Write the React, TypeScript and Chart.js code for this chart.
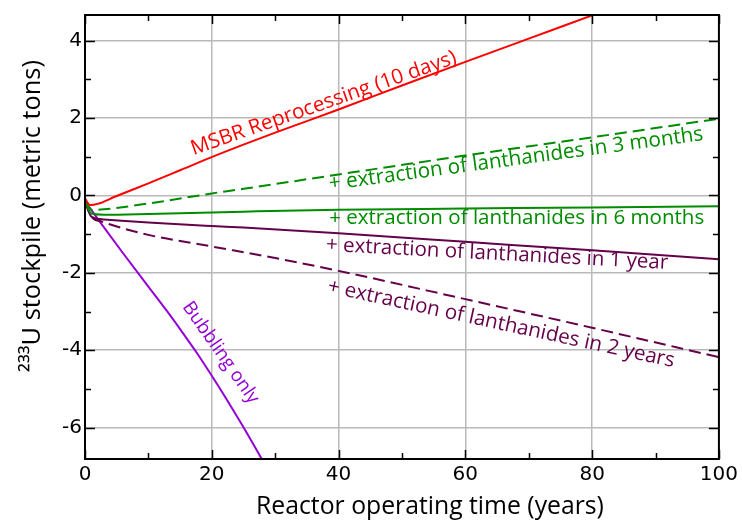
import React, { useEffect, useRef } from "react";
import { Chart, registerables } from "chart.js";

Chart.register(...registerables);

// ---------------- data ----------------
const msbrYears = [0, 0.8, 2, 4.8, 10, 15, 20, 25, 30, 40, 50, 60, 70, 80, 82];
const msbrU = [-0.08, -0.25, -0.22, -0.03, 0.31, 0.65, 0.99, 1.31, 1.62, 2.22, 2.84, 3.45, 4.05, 4.65, 4.77];

const lan3mYears = [0, 1.1, 3, 10, 20, 25, 40, 60, 80, 100];
const lan3mU = [-0.15, -0.38, -0.36, -0.21, 0.05, 0.17, 0.54, 1.03, 1.5, 1.98];

const lan6mYears = [0, 1, 3, 10, 20, 25, 40, 60, 80, 100];
const lan6mU = [-0.15, -0.47, -0.5, -0.48, -0.44, -0.42, -0.37, -0.34, -0.31, -0.28];

const lan1yYears = [0, 1, 3, 10, 20, 25, 40, 60, 80, 100];
const lan1yU = [-0.15, -0.55, -0.62, -0.7, -0.79, -0.83, -0.98, -1.2, -1.42, -1.65];

const lan2yYears = [0, 1, 2.7, 10, 20, 30, 40, 60, 80, 100];
const lan2yU = [-0.15, -0.55, -0.68, -1.02, -1.32, -1.62, -1.95, -2.68, -3.42, -4.18];

const bubblingYears = [0, 2.7, 5.8, 10.2, 12.8, 15.5, 17.6, 20, 22.5, 25, 27.5, 29];
const bubblingU = [-0.15, -0.76, -1.45, -2.4, -2.96, -3.57, -4.06, -4.66, -5.31, -5.99, -6.7, -7.14];

const xMajorTicks = [0, 20, 40, 60, 80, 100];
const xMinorTicks = [10, 30, 50, 70, 90];
const yMajorTicks = [-6, -4, -2, 0, 2, 4];
const yMinorTicks = [-5, -3, -1, 1, 3];

const X_MIN = 0;
const X_MAX = 100;
const Y_MIN = -6.81;
const Y_MAX = 4.66;

const xTitle = "Reactor operating time (years)";
const yTitle = "\u00B2\u00B3\u00B3U stockpile (metric tons)";

// ---------------- styles ----------------
const RED = "#ff0000";
const GREEN = "#008c00";
const PURPLE = "#65004a";
const VIOLET = "#9400d8";
const HAND_FONT = '"Comic Sans MS", "Open Sans", sans-serif';
const TICK_FONT = '"DejaVu Sans", Verdana, sans-serif';

// curve labels: text placed along a segment given in data coordinates
const curveLabels = [
  { text: "MSBR Reprocessing (10 days)", color: RED, from: [16.8, 1.18], to: [58.5, 3.57] },
  { text: "+ extraction of lanthanides in 3 months", color: GREEN, from: [38.5, 0.29], to: [97.5, 1.58] },
  { text: "+ extraction of lanthanides in 6 months", color: GREEN, from: [38.5, -0.59], to: [97.7, -0.59] },
  { text: "+ extraction of lanthanides in 1 year", color: PURPLE, from: [38.0, -1.28], to: [92.0, -1.75] },
  { text: "+ extraction of lanthanides in 2 years", color: PURPLE, from: [38.3, -2.35], to: [93.0, -4.29] },
  { text: "Bubbling only", color: VIOLET, from: [16.0, -2.8], to: [26.8, -5.33] },
];

function pts(xs: number[], ys: number[]) {
  return xs.map((x, i) => ({ x, y: ys[i] }));
}

function fitText(ctx: CanvasRenderingContext2D, text: string, len: number, family: string) {
  ctx.font = `20px ${family}`;
  const w = ctx.measureText(text).width;
  const size = (20 * len) / w;
  ctx.font = `${size}px ${family}`;
}

const labelPlugin = {
  id: "curveLabels",
  afterDatasetsDraw(chart: any) {
    const { ctx, scales } = chart;
    const xs = scales.x;
    const ys = scales.y;
    for (const lb of curveLabels) {
      const x0 = xs.getPixelForValue(lb.from[0]);
      const y0 = ys.getPixelForValue(lb.from[1]);
      const x1 = xs.getPixelForValue(lb.to[0]);
      const y1 = ys.getPixelForValue(lb.to[1]);
      const len = Math.hypot(x1 - x0, y1 - y0);
      const ang = Math.atan2(y1 - y0, x1 - x0);
      ctx.save();
      fitText(ctx, lb.text, len, HAND_FONT);
      ctx.translate((x0 + x1) / 2, (y0 + y1) / 2);
      ctx.rotate(ang);
      ctx.textAlign = "center";
      ctx.textBaseline = "middle";
      ctx.fillStyle = lb.color;
      ctx.fillText(lb.text, 0, 0);
      ctx.restore();
    }
  },
};

const framePlugin = {
  id: "frameTicks",
  afterDraw(chart: any) {
    const { ctx, chartArea, scales } = chart;
    const { left, right, top, bottom } = chartArea;
    const xs = scales.x;
    const ys = scales.y;
    ctx.save();
    ctx.strokeStyle = "#000";
    ctx.lineWidth = 1.5;
    ctx.beginPath();
    const xt = (vals: number[], len: number) => {
      for (const v of vals) {
        const p = Math.round(xs.getPixelForValue(v)) + 0.5;
        ctx.moveTo(p, bottom);
        ctx.lineTo(p, bottom - len);
        ctx.moveTo(p, top);
        ctx.lineTo(p, top + len);
      }
    };
    const yt = (vals: number[], len: number) => {
      for (const v of vals) {
        const p = Math.round(ys.getPixelForValue(v)) + 0.5;
        ctx.moveTo(left, p);
        ctx.lineTo(left + len, p);
        ctx.moveTo(right, p);
        ctx.lineTo(right - len, p);
      }
    };
    xt(xMajorTicks, 9);
    xt(xMinorTicks, 6);
    yt(yMajorTicks, 10);
    yt(yMinorTicks, 6);
    ctx.stroke();
    ctx.lineWidth = 2;
    ctx.strokeRect(left, top, right - left, bottom - top);

    // axis titles
    ctx.fillStyle = "#000";
    ctx.textAlign = "center";
    ctx.textBaseline = "middle";
    fitText(ctx, xTitle, 348, HAND_FONT);
    ctx.fillText(xTitle, 430, 507);
    ctx.translate(33, 216);
    ctx.rotate(-Math.PI / 2);
    fitText(ctx, yTitle, 312, HAND_FONT);
    ctx.fillText(yTitle, 0, 0);
    ctx.restore();
  },
};

export default function App() {
  const ref = useRef<HTMLCanvasElement | null>(null);

  useEffect(() => {
    if (!ref.current) return;
    const line = (data: any, color: string, dashed: boolean) => ({
      data,
      borderColor: color,
      backgroundColor: color,
      borderWidth: 2,
      pointRadius: 0,
      fill: false,
      cubicInterpolationMode: "monotone" as const,
      borderDash: dashed ? [12, 6] : [],
    });
    const chart = new Chart(ref.current, {
      type: "line",
      data: {
        datasets: [
          line(pts(msbrYears, msbrU), RED, false),
          line(pts(lan3mYears, lan3mU), GREEN, true),
          line(pts(lan6mYears, lan6mU), GREEN, false),
          line(pts(lan1yYears, lan1yU), PURPLE, false),
          line(pts(lan2yYears, lan2yU), PURPLE, true),
          line(pts(bubblingYears, bubblingU), VIOLET, false),
        ],
      },
      options: {
        animation: false,
        responsive: false,
        devicePixelRatio: 1,
        layout: { padding: { left: 0, right: 21, top: 13, bottom: 0 } },
        plugins: { legend: { display: false }, tooltip: { enabled: false } },
        scales: {
          x: {
            type: "linear",
            min: X_MIN,
            max: X_MAX,
            afterBuildTicks: (s: any) => {
              s.ticks = xMajorTicks.map((v) => ({ value: v }));
            },
            afterFit: (s: any) => {
              s.height = 64;
            },
            border: { display: false },
            grid: { color: "#b9b9b9", lineWidth: 1.5, drawTicks: false },
            ticks: {
              color: "#000",
              font: { family: TICK_FONT, size: 20 },
              padding: 4,
              maxRotation: 0,
              callback: (v: any) => String(v),
            },
          },
          y: {
            type: "linear",
            min: Y_MIN,
            max: Y_MAX,
            afterBuildTicks: (s: any) => {
              s.ticks = yMajorTicks.map((v) => ({ value: v }));
            },
            afterFit: (s: any) => {
              s.width = 85;
            },
            border: { display: false },
            grid: { color: "#b9b9b9", lineWidth: 1.5, drawTicks: false },
            ticks: {
              color: "#000",
              font: { family: TICK_FONT, size: 20 },
              padding: 3,
              callback: (v: any) => String(v),
            },
          },
        },
      },
      plugins: [labelPlugin, framePlugin],
    });
    return () => chart.destroy();
  }, []);

  return (
    <div style={{ position: "fixed", left: 0, top: 0, width: 742, height: 523, background: "#fff" }}>
      <canvas ref={ref} width={742} height={523} style={{ display: "block" }} />
    </div>
  );
}
